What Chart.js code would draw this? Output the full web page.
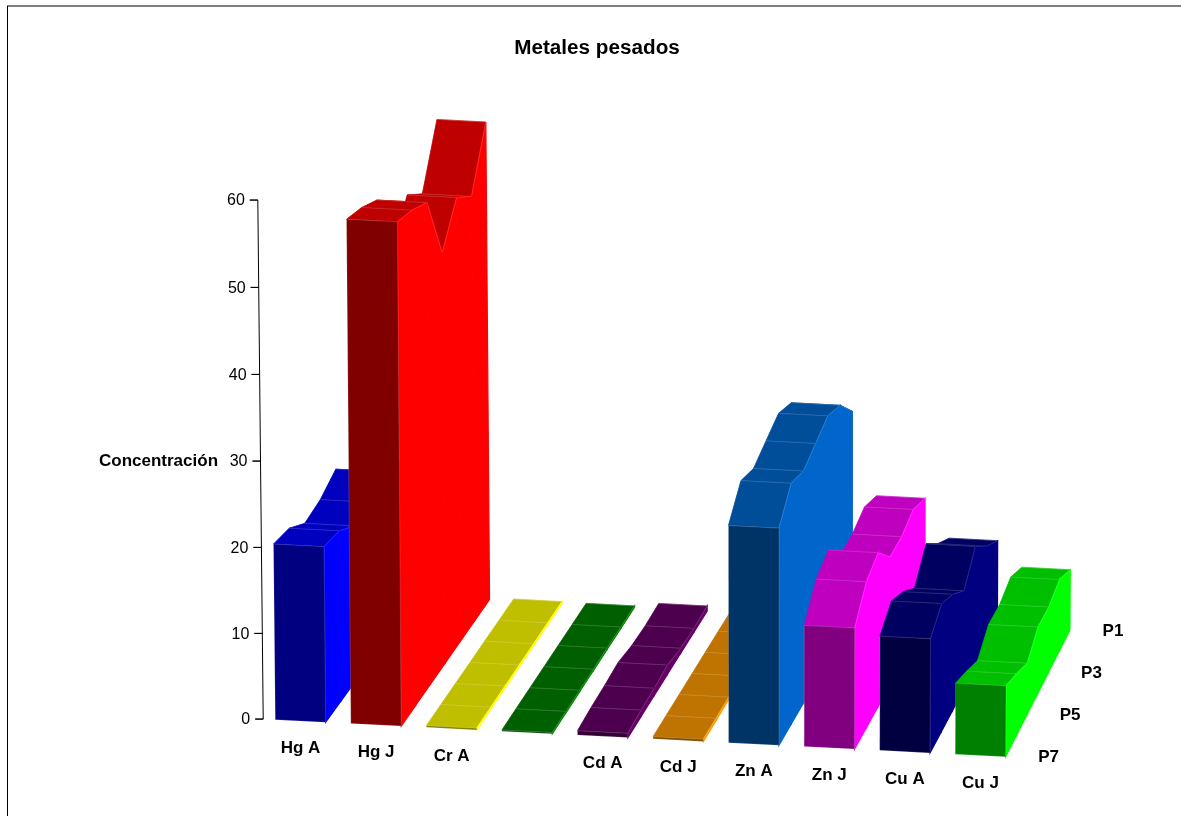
<!DOCTYPE html>
<html>
<head>
<meta charset="utf-8">
<title>Metales pesados</title>
<script src="https://cdn.jsdelivr.net/npm/chart.js@4"></script>
<style>
  html, body { margin: 0; padding: 0; background: #fff; }
  #wrap { width: 1181px; height: 816px; }
</style>
</head>
<body>
<div id="wrap"><canvas id="grafico" width="1181" height="816"></canvas></div>
<script>
const categorias = ["Hg A", "Hg J", "Cr A", "", "Cd A", "Cd J", "Zn A", "Zn J", "Cu A", "Cu J"];
const puntos = ["P7", "P6", "P5", "P4", "P3", "P2", "P1"];
const yTicks = [0, 10, 20, 30, 40, 50, 60];

// concentration per metal, from P7 (front) to P1 (back)
const hgA = [20.46, 19.95, 18.15, 18.55, 19.75, 16.5, 16.0];
const hgJ = [58.32, 57.53, 56.24, 48.2, 52.47, 50.39, 56.94];
const crA = [0.2, 0.2, 0.2, 0.2, 0.2, 0.2, 0.2];
const crJ = [0.15, 0.15, 0.15, 0.15, 0.15, 0.15, 0.15];
const cdA = [0.5, 0.75, 0.85, 1.1, 0.6, 0.45, 0.6];
const cdJ = [0.25, 0.25, 0.25, 0.25, 0.25, 0.25, 0.25];
const znA = [25.27, 28.17, 27.27, 28.17, 29.07, 27.97, 24.87];
const znJ = [14.12, 17.14, 18.15, 15.23, 15.23, 16.04, 14.93];
const cuA = [13.32, 15.03, 13.72, 11.71, 14.53, 12.11, 10.3];
const cuJ = [8.28, 7.27, 6.06, 7.88, 7.78, 8.58, 7.27];
const series = [hgA, hgJ, crA, crJ, cdA, cdJ, znA, znJ, cuA, cuJ];

const colores = ["#0000FF", "#FF0000", "#FFFF00", "#008000", "#660066", "#FF9900", "#0066CC", "#FF00FF", "#000080", "#00FF00"];

// pixel layout of the floor and of the value scale
const origenX = 275.3;
const pasoX = 75.55;
const origenY = 719.7;
const pasoY = 8.65;
const izquierdaArea = 13;
const topeArea = 75;
const anchoBarra = 0.667;

const tono = (hex, f) => {
  const n = parseInt(hex.slice(1), 16);
  const r = Math.round(((n >> 16) & 255) * f);
  const g = Math.round(((n >> 8) & 255) * f);
  const b = Math.round((n & 255) * f);
  return `rgb(${r}, ${g}, ${b})`;
};

// the value axis stretches a little towards the top
const altura = (v) => (8.55 * v + 0.00167 * v * v) / pasoY;

// c: position along the metals, d: depth step (0 = P7), v: concentration
const proyectar = (c, d, v) => ({
  x: c + (d * (15.55 - 0.5 * c) + v * 0.0135 * (c - 6.5)) / pasoX,
  y: altura(v) * (1 - 0.005 * d) + (21.1 * d - 3.83 * c) / pasoY,
});

const cara = (pts, color, borde, ancho) => ({
  data: [...pts, pts[0]],
  showLine: true,
  fill: "shape",
  backgroundColor: color,
  borderColor: borde,
  borderWidth: ancho,
  borderDash: [5000, 0],
  pointRadius: 0,
  clip: false,
});

const BORDE = "rgba(255, 255, 255, 0.22)";

const linea = (pts, color, ancho) => ({
  data: pts,
  showLine: true,
  fill: false,
  borderColor: color,
  borderWidth: ancho,
  borderDash: [5000, 0],
  pointRadius: 0,
  clip: false,
});

// faces are pushed back to front, the way they have to be painted
const caras = [];

series.forEach((valores, i) => {
  const base = colores[i];
  const sombra = tono(base, 0.75);
  const der = i + anchoBarra;
  for (let d = valores.length - 2; d >= 0; d--) {
    const v0 = valores[d];
    const v1 = valores[d + 1];
    caras.push(cara(
      [proyectar(i, d, v0), proyectar(der, d, v0), proyectar(der, d + 1, v1), proyectar(i, d + 1, v1)],
      sombra, sombra, 0.8
    ));
    caras.push(linea([proyectar(i, d + 1, v1), proyectar(der, d + 1, v1)], BORDE, 0.7));
    caras.push(cara(
      [proyectar(der, d, v0), proyectar(der, d + 1, v1), proyectar(der, d + 1, 0), proyectar(der, d, 0)],
      base, base, 1.2
    ));
    caras.push(linea([proyectar(der, d, v0), proyectar(der, d + 1, v1)], BORDE, 0.7));
  }
  caras.push(cara(
    [proyectar(i, 0, valores[0]), proyectar(der, 0, valores[0]), proyectar(der, 0, 0), proyectar(i, 0, 0)],
    tono(base, 0.5), BORDE, 0.7
  ));
});

// value axis with its tick marks, leaning with the perspective
const ejeC = -0.16;
const ejePts = [];
yTicks.forEach((t) => {
  const p = proyectar(ejeC, 0, t);
  ejePts.push(p, { x: p.x - 8 / pasoX, y: p.y }, p);
});
const eje = linea(ejePts, "#000000", 1);

const rotulos = {
  id: "rotulos",
  beforeDraw(chart) {
    const { ctx } = chart;
    // frame around the figure
    ctx.save();
    ctx.strokeStyle = "#000000";
    ctx.lineWidth = 1;
    ctx.strokeRect(7.5, 6, 1400, 1000);
    ctx.restore();
  },
  afterDraw(chart) {
    const { ctx, scales } = chart;
    const px = (p) => scales.x.getPixelForValue(p.x);
    const py = (p) => scales.y.getPixelForValue(p.y);
    ctx.save();
    ctx.fillStyle = "#000000";
    ctx.textBaseline = "middle";

    ctx.font = "16px 'Liberation Sans'";
    ctx.textAlign = "right";
    yTicks.forEach((t) => {
      const p = proyectar(ejeC, 0, t);
      ctx.fillText(String(t), px(p) - 13, py(p) + 1);
    });

    ctx.font = "bold 17px 'Liberation Sans'";
    ctx.textAlign = "center";
    categorias.forEach((nombre, i) => {
      const p = proyectar(i + anchoBarra / 2, 0, 0);
      ctx.fillText(nombre, px(p), py(p) + 27.5);
    });
    puntos.forEach((nombre, d) => {
      if (d % 2 === 1) return;
      const p = proyectar(9.667, d, 0);
      ctx.fillText(nombre, px(p) + 43, py(p) + 1);
    });

    const m = proyectar(ejeC, 0, 30);
    ctx.fillText("Concentración", px(m) - 102, py(m) + 0.5);
    ctx.restore();
  },
};

Chart.defaults.font.family = "'Liberation Sans', Arial, sans-serif";

new Chart(document.getElementById("grafico"), {
  type: "scatter",
  // first dataset is painted last
  data: { datasets: [eje, ...caras.reverse()] },
  options: {
    responsive: false,
    animation: false,
    events: [],
    layout: { padding: { left: izquierdaArea } },
    plugins: {
      legend: { display: false },
      tooltip: { enabled: false },
      title: {
        display: true,
        text: "Metales pesados",
        color: "#000000",
        font: { size: 20.7, weight: "bold" },
        padding: { top: 36, bottom: 14.16 },
      },
    },
    scales: {
      x: {
        type: "linear",
        display: false,
        min: (izquierdaArea - origenX) / pasoX,
        max: (1181 - origenX) / pasoX,
      },
      y: {
        type: "linear",
        display: false,
        min: (origenY - 816) / pasoY,
        max: (origenY - topeArea) / pasoY,
      },
    },
  },
  plugins: [rotulos],
});
</script>
</body>
</html>
